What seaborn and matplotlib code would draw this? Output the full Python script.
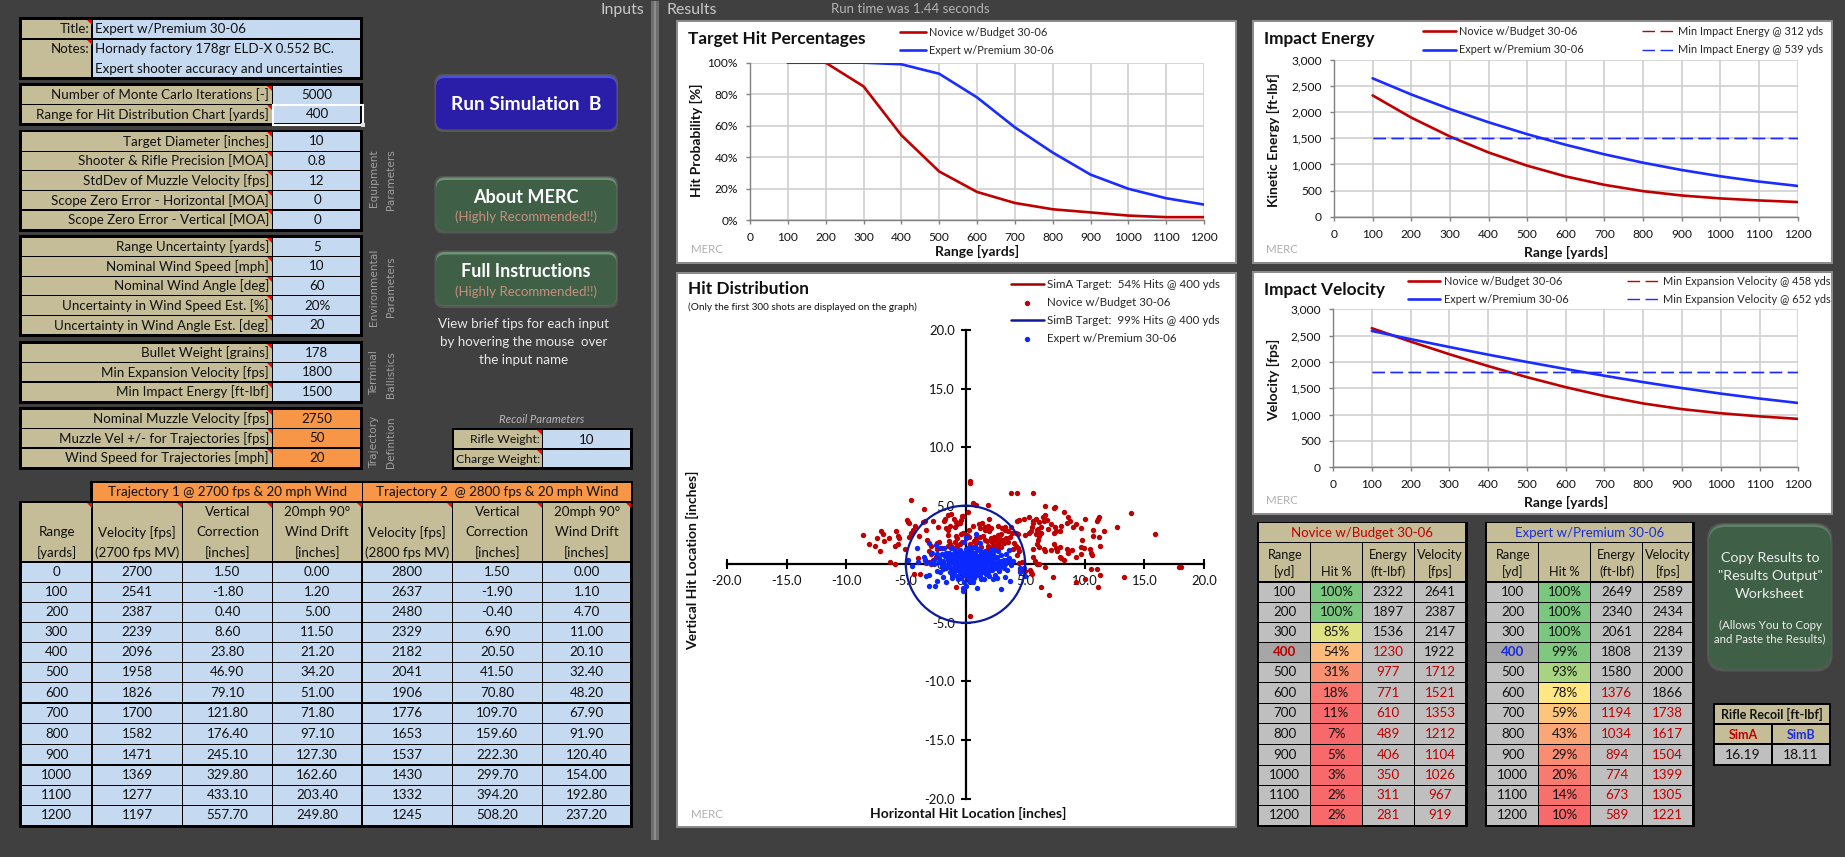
import matplotlib
matplotlib.use("Agg")
import matplotlib.pyplot as plt
import seaborn as sns
from matplotlib.colors import LinearSegmentedColormap
from matplotlib.lines import Line2D
from matplotlib.patches import Circle, FancyBboxPatch, Polygon, Rectangle

W, H = 1845, 857

BG = "#404040"
TAN = "#C4BD97"
LIGHT_BLUE = "#C5D9F1"
ORANGE = "#F79646"
CELL_GREY = "#BFBFBF"
SEL_GREY = "#A6A6A6"
RED = "#C00000"
BLUE = "#1A2CFF"
NAVY = "#0E1A9E"
INK = "#111111"

SIM_A = "Novice w/Budget 30-06"
SIM_B = "Expert w/Premium 30-06"

RANGES = [100, 200, 300, 400, 500, 600, 700, 800, 900, 1000, 1100, 1200]
A_HIT = [100, 100, 85, 54, 31, 18, 11, 7, 5, 3, 2, 2]
A_ENERGY = [2322, 1897, 1536, 1230, 977, 771, 610, 489, 406, 350, 311, 281]
A_VELOCITY = [2641, 2387, 2147, 1922, 1712, 1521, 1353, 1212, 1104, 1026, 967, 919]
B_HIT = [100, 100, 100, 99, 93, 78, 59, 43, 29, 20, 14, 10]
B_ENERGY = [2649, 2340, 2061, 1808, 1580, 1376, 1194, 1034, 894, 774, 673, 589]
B_VELOCITY = [2589, 2434, 2284, 2139, 2000, 1866, 1738, 1617, 1504, 1399, 1305, 1221]
MIN_ENERGY = 1500
MIN_VELOCITY = 1800
TARGET_RADIUS = 5

TRAJ_RANGE = [0, 100, 200, 300, 400, 500, 600, 700, 800, 900, 1000, 1100, 1200]
T1_VEL = [2700, 2541, 2387, 2239, 2096, 1958, 1826, 1700, 1582, 1471, 1369, 1277, 1197]
T1_DROP = [1.5, -1.8, 0.4, 8.6, 23.8, 46.9, 79.1, 121.8, 176.4, 245.1, 329.8, 433.1, 557.7]
T1_DRIFT = [0.0, 1.2, 5.0, 11.5, 21.2, 34.2, 51.0, 71.8, 97.1, 127.3, 162.6, 203.4, 249.8]
T2_VEL = [2800, 2637, 2480, 2329, 2182, 2041, 1906, 1776, 1653, 1537, 1430, 1332, 1245]
T2_DROP = [1.5, -1.9, -0.4, 6.9, 20.5, 41.5, 70.8, 109.7, 159.6, 222.3, 299.7, 394.2, 508.2]
T2_DRIFT = [0.0, 1.1, 4.7, 11.0, 20.1, 32.4, 48.2, 67.9, 91.9, 120.4, 154.0, 192.8, 237.2]

INPUT_MC = [("Number of Monte Carlo Iterations [-]", "5000"), ("Range for Hit Distribution Chart [yards]", "400")]
INPUT_EQUIP = [("Target Diameter [inches]", "10"), ("Shooter & Rifle Precision [MOA]", "0.8"),
               ("StdDev of Muzzle Velocity [fps]", "12"), ("Scope Zero Error - Horizontal [MOA]", "0"),
               ("Scope Zero Error - Vertical [MOA]", "0")]
INPUT_ENV = [("Range Uncertainty [yards]", "5"), ("Nominal Wind Speed [mph]", "10"),
             ("Nominal Wind Angle [deg]", "60"), ("Uncertainty in Wind Speed Est. [%]", "20%"),
             ("Uncertainty in Wind Angle Est. [deg]", "20")]
INPUT_TERM = [("Bullet Weight [grains]", "178"), ("Min Expansion Velocity [fps]", "1800"),
              ("Min Impact Energy [ft-lbf]", "1500")]
INPUT_TRAJ = [("Nominal Muzzle Velocity [fps]", "2750"), ("Muzzle Vel +/- for Trajectories [fps]", "50"),
              ("Wind Speed for Trajectories [mph]", "20")]

# shot positions, inches
NOVICE_SHOTS = [
    (0.4, 7.1), (0.4, 6.9), (3.85, 6.1), (4.3, 6.1), (5.7, 6.05), (-4.6, 5.5), (0.6, 5.2), (0.85, 5.1), (1.9, 5.1),
    (-3.5, 4.75), (6.7, 5.0), (7.5, 4.85), (8.3, 4.5), (13.9, 4.35), (0.2, 4.5), (-0.2, 4.1), (-1.2, 4.3), (-1.5, 4.2),
    (-8.6, 2.5), (-8.1, 1.7), (-7.6, 1.6), (-7.4, 2.2), (-7.1, 2.8), (-6.9, 2.6), (-6.8, 2.0), (-7.2, 1.1), (-6.4, 2.2),
    (-5.8, 2.8), (-5.7, 2.4), (-5.6, 2.2), (-5.9, 1.6), (-5.7, 1.7), (-5.1, 1.3), (-4.7, 2.3), (-4.6, 2.7), (-4.4, 2.9),
    (-4.9, 3.8), (-4.8, 3.6), (-4.7, 3.5), (-4.2, 3.3), (-3.6, 3.6), (-3.4, 3.7), (-3.3, 2.9), (-3.9, 2.4), (-3.2, 2.1),
    (-2.9, 1.6), (-3.1, 1.1), (-2.9, 0.9), (-3.4, 0.4), (-4.0, 0.5), (-6.3, 0.2), (-5.9, 0.0), (-4.3, -0.8),
    (-2.7, 3.7), (-2.3, 3.2), (-1.8, 3.7), (-1.7, 3.9), (-1.0, 3.9), (-0.8, 3.6), (-0.7, 3.4), (-0.4, 3.8), (-0.3, 4.1),
    (-0.5, 3.5), (-1.6, 3.1), (-1.3, 3.3), (-1.5, 2.9), (-1.5, 2.5), (-0.9, 3.2), (-0.8, 2.4), (-0.7, 2.2), (-0.4, 2.6),
    (-0.2, 2.7), (0.1, 2.5), (0.3, 2.9), (0.0, 2.2), (0.3, 2.3), (0.6, 3.3), (1.1, 3.4), (1.2, 3.1), (1.4, 3.5),
    (1.6, 3.2), (1.6, 2.9), (1.9, 3.3), (2.1, 3.1), (2.0, 2.8), (2.0, 3.9), (2.7, 3.3), (3.1, 3.1), (3.3, 3.2),
    (3.6, 2.8), (3.9, 2.7), (3.7, 2.3), (4.2, 2.7), (4.4, 2.6), (1.5, 2.4), (1.6, 2.1), (1.8, 2.0), (1.9, 1.6),
    (1.9, 1.3), (2.1, 2.2), (2.2, 1.9), (2.3, 1.6), (2.2, 1.4), (2.4, 2.3), (2.5, 2.1), (2.6, 1.7), (2.7, 2.5),
    (2.8, 2.2), (2.9, 1.9), (3.0, 2.6), (3.1, 2.1), (3.2, 1.8), (2.5, 1.3), (2.8, 1.5), (3.4, 2.2), (3.0, 1.5),
    (1.2, 2.3), (1.0, 1.9), (0.9, 2.2), (0.7, 2.0), (0.4, 1.7), (0.8, 1.6), (1.3, 1.5), (1.6, 1.0), (2.0, 1.1),
    (-1.4, 2.0), (-1.3, 1.7), (-1.1, 1.5), (-0.9, 1.9), (-0.7, 1.6), (-0.5, 1.7), (-0.3, 1.9), (-1.5, 1.6), (-2.4, 1.3),
    (-2.2, 1.9), (-2.4, 1.8), (-2.0, 1.4), (3.6, 1.9), (4.1, 1.8), (4.2, 1.6), (4.4, 1.4), (4.5, 1.1), (4.0, 1.3),
    (4.3, 0.8), (4.5, 0.1), (4.7, 0.2), (5.7, 0.6), (5.8, 0.3), (5.7, 1.3), (6.0, 1.7), (6.2, 1.5), (6.6, 1.3),
    (6.7, 1.1), (7.2, 1.2), (7.4, 1.7), (7.6, 1.4), (7.7, 1.1), (7.9, 1.5), (7.9, 0.6), (8.0, 0.5), (8.3, 0.4),
    (8.6, 1.0), (8.5, 1.3), (8.9, 1.2), (9.3, 0.6), (9.7, 0.9), (9.7, 1.5), (9.8, 2.1), (9.9, 1.4), (10.4, 1.3),
    (10.5, 1.0), (10.6, 0.8), (11.3, 1.6), (10.7, 2.4), (11.2, 2.3), (11.6, 2.8), (12.7, 3.2), (11.1, 3.9), (11.2, 4.0),
    (11.0, 3.7), (10.7, 2.9), (10.0, 3.9), (9.7, 3.1), (9.3, 3.4), (9.0, 3.2), (8.8, 3.7), (8.6, 4.0), (8.5, 3.5),
    (8.0, 3.3), (7.9, 2.8), (7.6, 2.8), (7.5, 3.2), (7.4, 2.7), (7.2, 3.4), (6.9, 3.0), (6.8, 3.8), (6.7, 4.2),
    (6.5, 4.0), (6.6, 3.7), (6.3, 3.2), (6.2, 3.6), (6.1, 3.0), (5.9, 3.9), (5.7, 3.5), (5.7, 3.7), (5.6, 3.2),
    (5.5, 2.8), (5.3, 2.7), (5.0, 2.5), (5.9, 2.6), (6.2, 2.4), (6.1, 2.1), (6.3, 2.7), (6.0, 2.9), (4.9, 3.9),
    (5.3, 4.0), (4.5, 3.8), (4.3, 3.7), (3.8, 3.2), (3.3, 2.9), (7.4, 4.8), (6.2, 0.0), (5.6, -0.8), (5.5, -0.7),
    (5.0, -0.6), (5.4, -0.5), (6.7, -0.2), (6.0, 0.05), (10.0, -1.3), (9.3, -1.5), (10.5, -0.4), (11.0, -0.4),
    (11.3, -0.9), (11.1, -1.9), (13.3, -1.1), (17.9, -0.2), (18.1, -0.2), (15.9, 2.6), (6.3, -1.9), (7.3, -1.1),
    (7.0, -2.6), (-0.8, -1.9), (0.4, -4.4), (-3.8, -0.8), (1.3, 0.3), (0.7, -0.5), (0.0, -1.0), (-2.9, 0.0),
    (-3.1, 0.2), (-2.7, 0.4), (-3.3, 0.1), (1.5, 0.9), (1.5, 0.6), (3.3, 0.1), (4.6, -0.5), (-2.5, 0.6),
]
EXPERT_SHOTS = [
    (0.85, 2.6), (-4.1, 1.4), (-3.1, 1.8), (-2.5, 1.65), (-0.15, 1.9), (0.05, 2.3), (1.2, 1.8), (-4.8, 0.4), (-4.0, 0.15),
    (-4.5, -0.15), (-3.5, 0.65), (-3.4, 0.4), (-3.3, 0.2), (-3.0, 0.1), (-2.8, 1.0), (-2.65, 0.4), (-3.35, -1.0),
    (-3.1, -0.9), (-3.1, -1.85), (-2.55, -1.85), (-2.35, -1.4), (-1.6, -1.5), (-1.9, -1.05), (-1.15, -1.2), (-0.2, -2.25),
    (-0.2, -2.0), (0.05, -1.85), (1.0, -2.05), (2.95, -2.1), (0.4, -1.4), (1.55, -1.25), (2.65, -1.15), (3.35, -1.1),
    (3.75, -1.4), (4.6, -0.7), (4.95, -1.0), (4.55, -0.3), (4.9, -0.35), (3.85, -0.1), (3.65, 1.2), (2.35, 1.25),
    (2.15, 1.3), (1.25, 1.2), (0.65, 1.45), (-1.25, 1.35), (-1.8, 1.35), (-2.15, 1.4), (3.65, 0.55), (3.25, 0.4),
    (2.95, 0.3), (2.3, 0.9), (2.6, 0.6), (3.0, 0.8), (3.4, 0.9), (3.7, 0.2), (4.0, 0.3), (3.2, -0.3), (3.5, -0.5),
    (2.8, -0.6), (2.5, -0.9), (2.2, -0.5), (2.0, -1.0), (1.7, -0.8), (-2.4, 0.9), (-2.2, 0.5), (-2.0, 0.9), (-1.9, 0.3),
    (-1.7, 0.7), (-1.6, 1.0), (-1.5, 0.4), (-1.4, 0.0), (-1.6, -0.3), (-1.9, -0.4), (-2.1, -0.7), (-2.4, -0.6),
    (-1.3, -0.7), (-1.1, -0.9), (-1.2, 0.7), (-1.1, 0.3), (-1.0, 1.0), (-1.0, -0.3), (-0.9, 0.6), (-0.8, 0.1),
    (-0.8, -0.5), (-0.7, 0.9), (-0.7, -1.0), (-0.6, 0.4), (-0.6, -0.2), (-0.5, 1.2), (-0.5, -0.7), (-0.4, 0.7),
    (-0.4, 0.1), (-0.4, -1.2), (-0.3, -0.4), (-0.2, 1.0), (-0.2, 0.4), (-0.2, -0.9), (-0.1, -0.1), (-0.1, -1.5),
    (0.0, 1.3), (0.0, 0.7), (0.0, 0.2), (0.0, -0.5), (0.1, -1.1), (0.1, 1.1), (0.2, 0.4), (0.2, -0.2), (0.2, -0.8),
    (0.3, 0.9), (0.3, 0.0), (0.3, -1.3), (0.4, 0.6), (0.4, -0.4), (0.5, 1.1), (0.5, 0.2), (0.5, -0.9), (0.6, 0.7),
    (0.6, -0.2), (0.7, 0.3), (0.7, -0.7), (0.7, -1.2), (0.8, 1.0), (0.8, 0.0), (0.9, 0.5), (0.9, -0.4), (0.9, -0.9),
    (1.0, 1.2), (1.0, 0.2), (1.0, -0.2), (1.1, 0.7), (1.1, -0.6), (1.2, 0.4), (1.2, -0.1), (1.2, -1.0), (1.3, 0.9),
    (1.3, -0.4), (1.4, 0.2), (1.4, -0.7), (1.5, -0.1), (1.6, 0.4), (1.6, -0.4), (1.7, 0.8), (1.7, 0.1), (1.8, -0.3),
    (1.9, 0.5), (1.9, -0.7), (2.0, 0.1), (2.1, 0.7), (2.1, -0.2), (2.3, 0.2), (2.4, -0.3), (2.5, 0.1), (2.7, -0.1),
    (2.9, 0.0), (3.1, -0.1), (-0.3, 0.5), (-0.1, 0.8), (0.1, 0.5), (0.3, 0.3), (0.5, -0.5), (-0.6, 0.2), (-0.9, -0.1),
    (0.4, 0.1), (0.6, 0.4), (0.8, -0.6), (-0.3, -0.1), (0.0, -0.2), (0.2, 0.8), (-0.5, 0.5), (1.0, 0.6), (1.5, 0.5),
    (-1.2, 0.15), (-1.25, -0.35), (-1.05, 0.55), (-0.95, -0.65), (-0.85, 0.3), (-0.75, -0.25), (-0.65, 0.7), (-0.55, -0.45),
    (-0.45, 0.95), (-0.35, 0.25), (-0.25, -0.65), (-0.15, 0.6), (-0.05, -0.35), (0.05, 0.95), (0.1, 0.05), (0.15, -0.55),
    (0.25, 0.55), (0.35, -0.2), (0.45, 0.85), (0.45, -0.7), (0.55, 0.45), (0.65, -0.05), (0.75, 0.6), (0.75, -0.35),
    (0.85, 0.25), (0.95, -0.65), (1.05, 0.4), (1.15, 0.05), (1.15, -0.35), (1.25, 0.65), (1.35, -0.15), (1.4, 0.5),
    (1.45, -0.5), (1.55, 0.2), (1.65, -0.15), (1.75, 0.4), (1.8, -0.55), (1.95, 0.25), (2.05, -0.45), (2.2, 0.4),
    (2.25, -0.05), (2.4, 0.55), (2.55, -0.35), (2.7, 0.3), (2.85, -0.3), (3.05, 0.3), (3.3, 0.0), (3.5, 0.35),
    (-1.8, 0.05), (-2.0, -0.15), (-2.25, 0.15), (-2.6, 0.0), (-1.55, 0.65), (-1.35, 1.0), (-0.9, 1.25), (0.3, 1.5),
    (0.9, 1.35), (1.6, 1.15), (-0.6, -1.3), (0.6, -1.55), (1.3, -1.3), (2.3, -1.3), (1.95, 1.0), (2.75, 1.1),
]

TICKS_RANGE = list(range(0, 1300, 100))
TICKS_PCT = [0, 20, 40, 60, 80, 100]
TICKS_KE = [0, 500, 1000, 1500, 2000, 2500, 3000]
TICKS_HIT = [-20, -15, -10, -5, 0, 5, 10, 15, 20]

# same kind of 3 colour scale the hit % cells use
hit_cmap = LinearSegmentedColormap.from_list(
    "hit", [(0.0, "#F8696B"), (0.78, "#FFEB84"), (1.0, "#7BC77F")]
)


def hit_color(value):
    return hit_cmap((value - 10) / 90)


sns.set_theme(style="ticks")
plt.rcParams["font.family"] = ["Lato", "DejaVu Sans"]

fig = plt.figure(figsize=(W / 100, H / 100), dpi=100, facecolor=BG)
canvas = fig.add_axes([0, 0, 1, 1], zorder=0)
canvas.set_xlim(0, W)
canvas.set_ylim(H, 0)
canvas.axis("off")


def label(x, y, text, size=9.6, color=INK, ha="center", **kw):
    canvas.text(x, y, text, fontsize=size, color=color, ha=ha, va="center", **kw)


def box(x0, y0, x1, y1, color, zorder=1):
    canvas.add_patch(Rectangle((x0, y0), x1 - x0, y1 - y0, facecolor=color, edgecolor="none", zorder=zorder))


def flag(x1, y0):
    canvas.add_patch(Polygon([(x1 - 5, y0), (x1, y0), (x1, y0 + 5)], facecolor="#FF0000", edgecolor="none", zorder=4))


def grid(xs, ys, colors):
    # black block with cells inset, so the gaps read as cell borders
    box(xs[0] - 2, ys[0] - 2, xs[-1] + 2, ys[-1] + 2, "black")
    for r in range(len(ys) - 1):
        for c in range(len(xs) - 1):
            box(xs[c] + 0.6, ys[r] + 0.6, xs[c + 1] - 0.6, ys[r + 1] - 0.6, colors[r][c], zorder=2)


def input_block(rows, y0, y1, value_color=LIGHT_BLUE):
    xs = [21, 272.4, 361]
    step = (y1 - y0) / len(rows)
    ys = [y0 + i * step for i in range(len(rows) + 1)]
    grid(xs, ys, [[TAN, value_color]] * len(rows))
    for i, (name, value) in enumerate(rows):
        mid = ys[i] + step / 2
        label(269, mid, name, ha="right", zorder=5)
        label(317, mid, value, zorder=5)
        flag(272, ys[i] + 0.5)


def button(x0, y0, x1, y1, body, top, radius=9):
    def rounded(a, b, c, d, color):
        canvas.add_patch(FancyBboxPatch((a + radius, b + radius), c - a - 2 * radius, d - b - 2 * radius,
                                        boxstyle=f"round,pad={radius}", facecolor=color, edgecolor="none", zorder=2))
    rounded(x0, y0, x1, y1, "#565656")
    rounded(x0 + 1.5, y0 + 1.5, x1 - 1.5, y1 - 2.5, top)
    rounded(x0 + 1.5, y0 + 4, x1 - 1.5, y1 - 2.5, body)


# ---- left side: inputs ----
label(644, 10, "Inputs", size=11.4, color="#C8C8C8", ha="right")
label(667, 10, "Results", size=11.4, color="#C8C8C8", ha="left")
label(831, 8.5, "Run time was 1.44 seconds", size=9.5, color="#B4B4B4", ha="left")

grid([21, 92, 361], [19, 39, 77.5], [[TAN, LIGHT_BLUE], [TAN, LIGHT_BLUE]])
label(90, 29, "Title:", ha="right", zorder=5)
label(90, 49, "Notes:", ha="right", zorder=5)
label(95, 29, "Expert w/Premium 30-06", ha="left", zorder=5)
label(95, 49, "Hornady factory 178gr ELD-X 0.552 BC.", ha="left", zorder=5)
label(95, 69, "Expert shooter accuracy and uncertainties", ha="left", zorder=5)
flag(92, 19.5)
flag(92, 39.5)

input_block(INPUT_MC, 85, 124)
input_block(INPUT_EQUIP, 131.5, 229.5)
input_block(INPUT_ENV, 237, 335)
input_block(INPUT_TERM, 343, 401.5)
input_block(INPUT_TRAJ, 409, 467.5, ORANGE)

canvas.add_patch(Rectangle((272.6, 104.6), 90, 20, facecolor="none", edgecolor="white", lw=1.5, zorder=6))
box(360.5, 122.5, 364.5, 126.5, "#DDDDDD", zorder=7)

for x, y, text in [(374, 178, "Equipment"), (391, 180, "Parameters"), (374, 287, "Environmental"), (391, 287, "Parameters"),
                   (374, 373, "Terminal"), (391, 375, "Ballistics"), (374, 442, "Trajectory"), (391, 442, "Definition")]:
    canvas.text(x, y, text, rotation=90, fontsize=7.6, color="#A0A0A0", ha="center", va="center",
                family="DejaVu Sans")

button(434.5, 74, 618, 132, "#2A1EA8", "#4A52D8")
label(526, 104, "Run Simulation  B", size=13.8, color="white", weight="bold", zorder=5)
for y0, y1, head in [(176, 233.5, "About MERC"), (250.5, 308, "Full Instructions")]:
    button(434.5, y0, 618, y1, "#3F6047", "#6E9478")
    label(526, y0 + 21, head, size=13, color="white", weight="bold", zorder=5)
    label(526, y0 + 41, "(Highly Recommended!!)", size=9.5, color="#C98E80", zorder=5)

for y, text in [(324, "View brief tips for each input"), (342, "by hovering the mouse  over"), (360, "the input name")]:
    label(524, y, text, size=9.6, color="#E8E8E8")

label(542, 419, "Recoil Parameters", size=8.2, color="#B8B8B8", style="italic")
grid([453.5, 542.5, 631], [429.5, 449, 468], [[TAN, LIGHT_BLUE], [TAN, LIGHT_BLUE]])
label(540, 439.5, "Rifle Weight:", size=8.8, ha="right", zorder=5)
label(540, 459, "Charge Weight:", size=8.8, ha="right", zorder=5)
label(587, 439.5, "10", zorder=5)
flag(542, 430)
flag(542, 449.5)

# trajectory table
traj_xs = [21, 92, 182.4, 272.4, 362, 452.3, 542.3, 631]
traj_ys = [562.3, 582.3, 602.3, 622.3, 642.3, 662.3, 682.3, 703, 723.3, 744.3, 765, 785.3, 805.3, 825.5]
box(90, 481, 633, 503, "black")
box(93, 483, 361.5, 501, ORANGE, zorder=2)
box(362.5, 483, 631, 501, ORANGE, zorder=2)
label(228, 492, "Trajectory 1 @ 2700 fps & 20 mph Wind", zorder=5)
label(497, 492, "Trajectory 2  @ 2800 fps & 20 mph Wind", zorder=5)

box(19, 501, 633, 827.5, "black")
traj_heads = [["Range", "[yards]"], ["Velocity [fps]", "(2700 fps MV)"], ["Vertical", "Correction", "[inches]"],
              ["20mph 90°", "Wind Drift", "[inches]"], ["Velocity [fps]", "(2800 fps MV)"],
              ["Vertical", "Correction", "[inches]"], ["20mph 90°", "Wind Drift", "[inches]"]]
for c, head in enumerate(traj_heads):
    box(traj_xs[c] + 0.6, 503, traj_xs[c + 1] - 0.6, 561, TAN, zorder=2)
    mid = (traj_xs[c] + traj_xs[c + 1]) / 2
    for k, line in enumerate(reversed(head)):
        label(mid, 552.5 - 20 * k, line, zorder=5)
    flag(traj_xs[c + 1] - 0.5, 503)

traj_cols = [[str(v) for v in TRAJ_RANGE], [str(v) for v in T1_VEL], [f"{v:.2f}" for v in T1_DROP],
             [f"{v:.2f}" for v in T1_DRIFT], [str(v) for v in T2_VEL], [f"{v:.2f}" for v in T2_DROP],
             [f"{v:.2f}" for v in T2_DRIFT]]
for c, col in enumerate(traj_cols):
    mid = (traj_xs[c] + traj_xs[c + 1]) / 2
    for r, text in enumerate(col):
        box(traj_xs[c] + 0.6, traj_ys[r] + 0.6, traj_xs[c + 1] - 0.6, traj_ys[r + 1] - 0.6, LIGHT_BLUE, zorder=2)
        label(mid, (traj_ys[r] + traj_ys[r + 1]) / 2, text, zorder=5)
for x in (92, 362):
    box(x - 0.8, 562, x + 0.8, 826, "black", zorder=3)

# separator between inputs and results
box(651, 1, 658.5, 840, "#6E6E6E")
box(653.5, 1, 656, 840, "#8C8C8C")


# ---- right side: results tables ----
result_ys = [582.7, 602.3, 622.3, 642.3, 662.3, 682.3, 703.3, 723.3, 744.3, 765.3, 785.3, 805.3, 825.3]


def result_table(xs, title, color, hit, energy, velocity):
    box(xs[0] - 2, 521.5, xs[-1] + 2, 827, "black")
    box(xs[0] + 0.6, 523, xs[-1] - 0.6, 541.7, TAN, zorder=2)
    label((xs[0] + xs[-1]) / 2, 533, title, size=9.5, color=color, zorder=5)
    heads = [["Range", "[yd]"], ["Hit %"], ["Energy", "(ft-lbf)"], ["Velocity", "[fps]"]]
    for c, head in enumerate(heads):
        box(xs[c] + 0.6, 543, xs[c + 1] - 0.6, 581, TAN, zorder=2)
        mid = (xs[c] + xs[c + 1]) / 2
        for k, line in enumerate(reversed(head)):
            label(mid, 571.7 - 16.7 * k, line, size=9.2, zorder=5)
    for r, rng in enumerate(RANGES):
        y0, y1 = result_ys[r] + 0.6, result_ys[r + 1] - 0.6
        mid_y = (y0 + y1) / 2
        picked = rng == 400
        box(xs[0] + 0.6, y0, xs[1] - 0.6, y1, SEL_GREY if picked else CELL_GREY, zorder=2)
        box(xs[1] + 0.6, y0, xs[2] - 0.6, y1, hit_color(hit[r]), zorder=2)
        box(xs[2] + 0.6, y0, xs[3] - 0.6, y1, CELL_GREY, zorder=2)
        box(xs[3] + 0.6, y0, xs[4] - 0.6, y1, CELL_GREY, zorder=2)
        label((xs[0] + xs[1]) / 2, mid_y, str(rng), color=color if picked else INK,
              weight="bold" if picked else "normal", zorder=5)
        label((xs[1] + xs[2]) / 2, mid_y, f"{hit[r]}%", zorder=5)
        label((xs[2] + xs[3]) / 2, mid_y, str(energy[r]), color=RED if energy[r] < MIN_ENERGY else INK, zorder=5)
        label((xs[3] + xs[4]) / 2, mid_y, str(velocity[r]), color=RED if velocity[r] < MIN_VELOCITY else INK, zorder=5)


result_table([1258.7, 1310.7, 1362.3, 1414.3, 1465.6], SIM_A, RED, A_HIT, A_ENERGY, A_VELOCITY)
result_table([1486.8, 1538.8, 1590.8, 1642.8, 1692.9], SIM_B, "#1A2CD8", B_HIT, B_ENERGY, B_VELOCITY)

button(1707, 523, 1832.5, 671.5, "#3F6047", "#5E8068", radius=17)
for y, text in [(558, "Copy Results to"), (576, '"Results Output"'), (594, "Worksheet")]:
    label(1770, y, text, size=10.3, color="#EDEDED", zorder=5)
for y, text in [(625, "(Allows You to Copy"), (639, "and Paste the Results)")]:
    label(1770, y, text, size=8.3, color="#EDEDED", zorder=5)

box(1713, 702.5, 1830.5, 766, "black")
box(1715, 704.5, 1828.5, 723, TAN, zorder=2)
label(1772, 714.5, "Rifle Recoil [ft-lbf]", size=9, weight="bold", zorder=5)
for x0, x1, head, color, value in [(1715, 1771.2, "SimA", RED, "16.19"), (1772.8, 1828.5, "SimB", "#1A2CD8", "18.11")]:
    box(x0, 724.5, x1, 743, TAN, zorder=2)
    box(x0, 745, x1, 764, CELL_GREY, zorder=2)
    label((x0 + x1) / 2, 735, head, size=9, color=color, weight="bold", zorder=5)
    label((x0 + x1) / 2, 755, value, size=10, zorder=5)


# ---- charts ----
def panel(x0, y0, x1, y1):
    box(x0 - 2, y0 - 2, x1 + 2, y1 + 2, "#8C8C8C")
    box(x0, y0, x1, y1, "white", zorder=2)


def chart_axes(x0, y0, x1, y1):
    ax = fig.add_axes([x0 / W, 1 - y1 / H, (x1 - x0) / W, (y1 - y0) / H], zorder=2)
    ax.patch.set_alpha(0)
    return ax


def style_line_axes(ax, yticks, ylabels, xlabel_xy, ylabel, ylabel_xy):
    ax.set_xlim(0, 1200)
    ax.set_ylim(yticks[0], yticks[-1])
    ax.set_xticks(TICKS_RANGE)
    ax.set_xticklabels([str(t) for t in TICKS_RANGE])
    ax.set_yticks(yticks)
    ax.set_yticklabels(ylabels)
    ax.grid(True, color="#CFCFCF", lw=1.2)
    ax.set_axisbelow(True)
    ax.tick_params(length=3.2, width=1, color="#808080", labelsize=8.6, labelcolor=INK, pad=5.5)
    sns.despine(ax=ax)
    for side in ("left", "bottom"):
        ax.spines[side].set_color("#808080")
        ax.spines[side].set_linewidth(1)
    ax.set_xlabel("Range [yards]", fontsize=10, weight="bold", color=INK)
    ax.set_ylabel(ylabel, fontsize=10, weight="bold", color=INK)
    ax.xaxis.set_label_coords(xlabel_xy[0] / W, 1 - xlabel_xy[1] / H, transform=fig.transFigure)
    ax.yaxis.set_label_coords(ylabel_xy[0] / W, 1 - ylabel_xy[1] / H, transform=fig.transFigure)
    ax.xaxis.label.set_va("center")
    ax.yaxis.label.set_va("center")


def line_legend(ax, handles, x, y, gap=1.0, handle_len=3.0):
    ax.legend(handles=handles, loc="upper left", bbox_to_anchor=(x / W, 1 - y / H), bbox_transform=fig.transFigure,
              ncol=2 if len(handles) == 4 else 1, frameon=False, fontsize=7.9, borderpad=0, borderaxespad=0,
              handlelength=handle_len, handletextpad=0.3, labelspacing=0.68, columnspacing=gap)


def plot_series(ax, a_values, b_values):
    line_a = sns.lineplot(x=RANGES, y=a_values, color=RED, lw=1.9, ax=ax, label=SIM_A).get_lines()[-1]
    line_b = sns.lineplot(x=RANGES, y=b_values, color=BLUE, lw=1.9, ax=ax, label=SIM_B).get_lines()[-1]
    return line_a, line_b


def plot_min(ax, value, red_label, blue_label):
    floor = [value] * len(RANGES)
    n = len(ax.get_lines())
    sns.lineplot(x=RANGES, y=floor, color=RED, lw=1.0, ax=ax, label=red_label, linestyle=(0, (9, 4)))
    sns.lineplot(x=RANGES, y=floor, color=BLUE, lw=1.0, ax=ax, label=blue_label, linestyle=(0, (9, 4)))
    return ax.get_lines()[n], ax.get_lines()[n + 1]


panel(678, 22, 1235, 261.5)
ax_hit = chart_axes(750, 62.7, 1204, 220.3)
hit_a, hit_b = plot_series(ax_hit, A_HIT, B_HIT)
style_line_axes(ax_hit, TICKS_PCT, [f"{t}%" for t in TICKS_PCT], (977, 251.5), "Hit Probability [%]", (696, 140))
line_legend(ax_hit, [hit_a, hit_b], 900, 26.5, handle_len=2.35)
label(688, 39, "Target Hit Percentages", size=12.4, weight="bold", ha="left", zorder=5)
label(690.5, 249, "MERC", size=8.3, color="#B0B0B0", ha="left", zorder=5)

panel(1254, 22, 1830.5, 261.5)
ax_energy = chart_axes(1334, 60, 1797.6, 216.7)
en_a, en_b = plot_series(ax_energy, A_ENERGY, B_ENERGY)
en_c, en_d = plot_min(ax_energy, MIN_ENERGY, "Min Impact Energy @ 312 yds", "Min Impact Energy @ 539 yds")
style_line_axes(ax_energy, TICKS_KE, [f"{t:,}" for t in TICKS_KE], (1566, 252), "Kinetic Energy [ft-lbf]", (1273.5, 140.5))
line_legend(ax_energy, [en_a, en_b, en_c, en_d], 1422.7, 26, gap=5.3)
label(1264.5, 39, "Impact Energy", size=12.4, weight="bold", ha="left", zorder=5)
label(1266, 249, "MERC", size=8.3, color="#B0B0B0", ha="left", zorder=5)

panel(1254, 273, 1830.5, 513.3)
ax_vel = chart_axes(1333, 309.3, 1798.4, 467.3)
vel_a, vel_b = plot_series(ax_vel, A_VELOCITY, B_VELOCITY)
vel_c, vel_d = plot_min(ax_vel, MIN_VELOCITY, "Min Expansion Velocity @ 458 yds", "Min Expansion Velocity @ 652 yds")
style_line_axes(ax_vel, TICKS_KE, [f"{t:,}" for t in TICKS_KE], (1566, 502.7), "Velocity [fps]", (1273.5, 380))
line_legend(ax_vel, [vel_a, vel_b, vel_c, vel_d], 1407.5, 275.5, gap=5.3)
label(1264.5, 290, "Impact Velocity", size=12.4, weight="bold", ha="left", zorder=5)
label(1266, 500, "MERC", size=8.3, color="#B0B0B0", ha="left", zorder=5)

panel(678, 273.5, 1235, 826.5)
ax_shots = chart_axes(727, 330, 1204, 798.5)
ax_shots.set_xlim(-20, 20)
ax_shots.set_ylim(-20, 20)
sns.scatterplot(x=[p[0] for p in NOVICE_SHOTS], y=[p[1] for p in NOVICE_SHOTS], color=RED, s=15, linewidth=0,
                ax=ax_shots, label=SIM_A, zorder=2)
sns.scatterplot(x=[p[0] for p in EXPERT_SHOTS], y=[p[1] for p in EXPERT_SHOTS], color="#0A28FF", s=15, linewidth=0,
                ax=ax_shots, label=SIM_B, zorder=3)
ax_shots.add_patch(Circle((0, 0), TARGET_RADIUS, facecolor="none", edgecolor=NAVY, lw=1.6, zorder=4))
sns.despine(ax=ax_shots)
ax_shots.set_axisbelow(True)
for side in ("left", "bottom"):
    ax_shots.spines[side].set_position("zero")
    ax_shots.spines[side].set_linewidth(1.6)
    ax_shots.spines[side].set_color("black")
    ax_shots.spines[side].set_zorder(1)
ax_shots.set_xticks(TICKS_HIT)
ax_shots.set_yticks(TICKS_HIT)
ax_shots.set_xticklabels([f"{t:.1f}" for t in TICKS_HIT])
ax_shots.set_yticklabels([f"{t:.1f}" for t in TICKS_HIT])
ax_shots.tick_params(direction="inout", length=7.5, width=1.5, color="black", labelsize=9.4, labelcolor=INK, pad=4)
ax_shots.set_xlabel("Horizontal Hit Location [inches]", fontsize=10, weight="bold", color=INK)
ax_shots.set_ylabel("Vertical Hit Location [inches]", fontsize=10, weight="bold", color=INK)
ax_shots.xaxis.set_label_coords(968 / W, 1 - 813 / H, transform=fig.transFigure)
ax_shots.yaxis.set_label_coords(692.5 / W, 1 - 560 / H, transform=fig.transFigure)
ax_shots.xaxis.label.set_va("center")
ax_shots.yaxis.label.set_va("center")
scatter_handles = ax_shots.get_legend_handles_labels()[0]
ax_shots.legend(
    handles=[Line2D([], [], color="#A00000", lw=1.8, label="SimA Target:  54% Hits @ 400 yds"), scatter_handles[0],
             Line2D([], [], color=NAVY, lw=1.8, label="SimB Target:  99% Hits @ 400 yds"), scatter_handles[1]],
    loc="upper left", bbox_to_anchor=(1011 / W, 1 - 279 / H), bbox_transform=fig.transFigure, frameon=False,
    fontsize=8.3, borderpad=0, borderaxespad=0, handlelength=2.85, handletextpad=0.3, labelspacing=0.6,
)
label(688, 289, "Hit Distribution", size=12.4, weight="bold", ha="left", zorder=5)
label(688, 307.7, "(Only the first 300 shots are displayed on the graph)", size=7.2, ha="left", zorder=5)
label(690.5, 814, "MERC", size=8.3, color="#B0B0B0", ha="left", zorder=5)

fig.savefig("out.png", dpi=100, facecolor=BG)
